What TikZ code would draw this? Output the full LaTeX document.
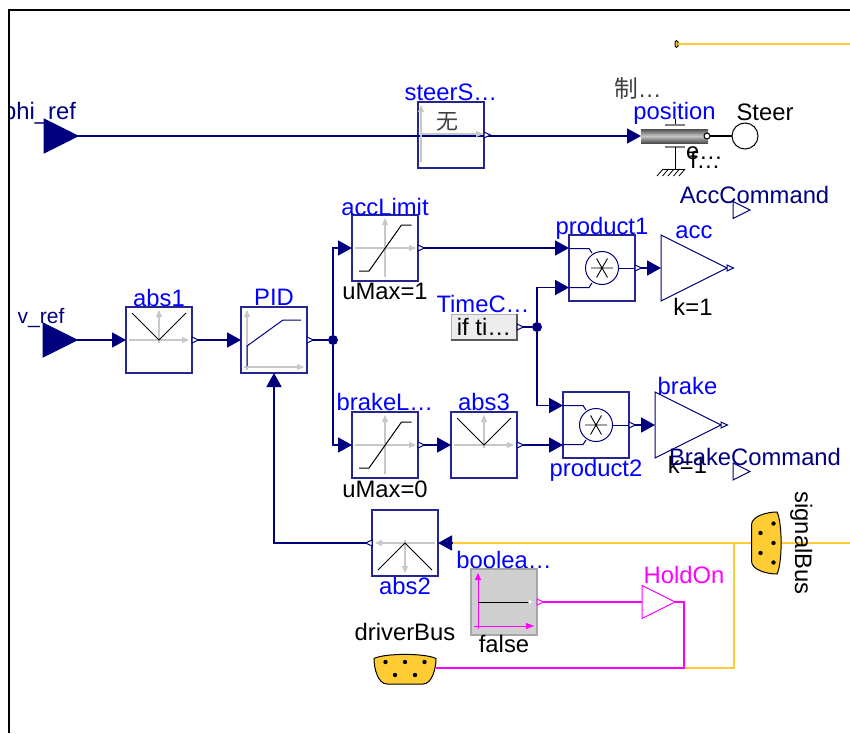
\documentclass[tikz,border=0pt]{standalone}
\usepackage{fontspec}
\setmainfont{Liberation Sans}
\newfontfamily\cjkfont{Noto Sans CJK SC}
\usepackage{xcolor}
\usepackage{tikz}
\usetikzlibrary{arrows.meta,positioning,shapes.geometric}

\definecolor{sigblue}{RGB}{0,0,127}
\definecolor{namblue}{RGB}{0,0,255}
\definecolor{busyel}{RGB}{255,204,51}
\definecolor{boolmag}{RGB}{255,0,255}
\definecolor{axisgray}{RGB}{200,200,200}

\begin{document}
\begin{tikzpicture}[
        x=1pt, y=-1pt,
        block/.style={draw=sigblue!85, rectangle, line width=1.2pt, minimum size=66pt, inner sep=0pt, outer sep=0pt},
        gain/.style={draw=#1, isosceles triangle, isosceles triangle stretches, line width=1pt, inner sep=0pt, outer sep=0pt, anchor=apex, shape border rotate=0},
        gain/.default=sigblue,
        lbl/.style={font=\fontsize{23.8}{26}\selectfont, inner sep=0pt, outer sep=0pt, text height=17pt, text depth=5pt},
        blockname/.style={lbl, text=namblue},
        dot/.style={circle, fill=sigblue, minimum size=10pt, inner sep=0pt, outer sep=0pt},
        conn/.style={sigblue, line width=1.8pt, -{Triangle[length=14pt,width=15pt]}},
        sigline/.style={sigblue, line width=1.8pt},
        busline/.style={busyel, line width=1.6pt},
        magline/.style={boolmag, line width=1.8pt},
        axis/.style={axisgray, line width=1.2pt, -{Triangle[length=7pt,width=6pt]}},
        pics/outp/.style={code={\draw[fill=white, line width=1pt, draw=#1] (0,-3) -- (6.5,0) -- (0,3) -- cycle;}},
        pics/outp/.default=sigblue,
        pics/limiter/.style={code={
            \draw[axis] (-30,0) -- (31,0);
            \draw[axis] (0,29) -- (0,-30);
            \draw[line width=1pt] (-26,23) -- (-16,23) -- (16.5,-23) -- (26.5,-23);
        }},
        pics/absicon/.style={code={
            \draw[axis] (-30,0) -- (30,0);
            \draw[axis] (0,3) -- (0,-30);
            \draw[line width=1pt] (-27,-27) -- (0,0) -- (27,-27);
        }},
        pics/mult/.style={code={
            \draw[sigblue, line width=1pt] (-33,-19.5) -- (-13,-19.5) -- (-10,-15);
            \draw[sigblue, line width=1pt] (-33,19.5) -- (-13,19.5) -- (-10,15);
            \draw[sigblue, line width=1pt] (0,0) circle (16.5);
            \draw[sigblue, line width=1pt] (16.5,0) -- (33,0);
            \draw[line width=0.9pt] (-11,0) -- (11,0) (-5.5,-9.5) -- (5.5,9.5) (-5.5,9.5) -- (5.5,-9.5);
        }},
        pics/busplug/.style={code={
            \draw[fill=busyel, line width=1pt] (-31,-10) .. controls (-20,-15.5) and (20,-15.5) .. (31,-10)
                .. controls (31,0) and (27,15.5) .. (18,15.5) -- (-18,15.5)
                .. controls (-27,15.5) and (-31,0) .. (-31,-10) -- cycle;
            \foreach \px/\py in {-19.5/-6.5,0/-6.5,19.5/-6.5,-10/6.5,10/6.5}
                \fill (\px,\py) circle (2.2);
        }}
    ]
    \useasboundingbox (0,0) rectangle (850,733);

    % blocks
    \node[block] (steerS) at (451,135) {};
    \node[block] (abs1) at (159,340) {};
    \node[block, right=49pt of abs1] (PID) {};
    \node[block] (accLimit) at (385,248) {};
    \node[block, below=131pt of accLimit] (brakeLimit) {};
    \node[block, right=33pt of brakeLimit] (abs3) {};
    \node[block] (product1) at (602,268) {};
    \node[block] (product2) at (596,425) {};
    \node[block] (abs2) at (405,543) {};
    \node[block, draw=gray!70, fill=gray!38] (boolean) at (504,602) {};
    \node[gain, minimum height=66pt, minimum width=66pt] (acc) at (727,268) {};
    \node[gain, minimum height=66pt, minimum width=66pt] (brake) at (721,425) {};
    \node[gain=boolmag, minimum height=33pt, minimum width=33pt] (HoldOn) at (675,602) {};
    \node[gain, fill=sigblue, minimum height=34pt, minimum width=34pt] (phiRef) at (78,136) {};
    \node[gain, fill=sigblue, minimum height=34pt, minimum width=34pt] (vRef) at (77,340) {};
    \node[gain, line width=1pt, minimum height=17pt, minimum width=17pt] (accCmd) at (750,210) {};
    \node[gain, line width=1pt, minimum height=17pt, minimum width=17pt] (brakeCmd) at (750,471.5) {};
    \node[lbl, draw=gray!60, fill=gray!15, rectangle, minimum width=66pt, minimum height=26pt, text height=17pt, text depth=1pt] (timeConst) at (484,327) {if ti…};
    \draw[gray!70!black, line width=1.5pt] (timeConst.south west) -- (timeConst.south east) -- (timeConst.north east);
    \node[dot] (juncPID) at (333,340) {};
    \node[dot] (juncTime) at (537,327) {};
    \node[rectangle, inner sep=0pt, outer sep=0pt, minimum width=67pt, minimum height=14pt, top color=black!70, bottom color=black!70, middle color=black!22] (position) at (674.5,136) {};
    \node[draw, circle, fill=white, line width=1pt, minimum size=26pt, inner sep=0pt, outer sep=0pt] (steer) at (745,136) {};
    \node[draw=black, fill=busyel, rounded corners=1.5pt, line width=1pt, minimum width=3pt, minimum height=7pt, inner sep=0pt, outer sep=0pt] (busTop) at (676.5,44) {};

    \coordinate (busTopEnd) at (850,44);
    \coordinate (sigTap) at (451.5,543);
    \coordinate (sigEnd) at (850,543);
    \coordinate (busJoin) at (734,543);
    \coordinate (holdTurn) at (684,668);
    \coordinate (driverPort) at (436,668);
    \coordinate (driverBus) at (405,668.5);
    \coordinate (signalBus) at (767,543);

    % connectors
    \draw[busline] (busTop) -- (busTopEnd);
    \draw[busline] (sigTap) -- (sigEnd);
    \draw[busline] (holdTurn) -| (busJoin);
    \draw[conn] (phiRef.apex) -- (position.west);
    \draw[conn] (vRef.apex) -- (abs1.west);
    \draw[conn] (abs1.east) -- (PID.west);
    \draw[sigline] (PID.east) -- (juncPID);
    \draw[conn] (juncPID) |- (accLimit.west);
    \draw[conn] (juncPID) |- (brakeLimit.west);
    \draw[conn] (accLimit.east) -- (accLimit.east -| product1.west);
    \draw[conn] (brakeLimit.east) -- (abs3.west);
    \draw[conn] (abs3.east) -- (abs3.east -| product2.west);
    \draw[sigline] (timeConst.east) -- (juncTime);
    \draw[conn] (juncTime) |- ([yshift=-19.5pt]product1.west);
    \draw[conn] (juncTime) |- ([yshift=19.5pt]product2.west);
    \draw[conn] (product1.east) -- (acc.lower side);
    \draw[conn] (product2.east) -- (brake.lower side);
    \draw[conn] (sigTap) -- (abs2.east);
    \draw[conn] (abs2.west) -| (PID.south);
    \draw[magline] (boolean.east) -- (HoldOn.lower side);
    \draw[magline] (HoldOn.apex) -| (holdTurn) -- (driverPort);
    \draw[line width=1.2pt] (position.east) -- (steer);

    % block icons
    \pic at (accLimit) {limiter};
    \pic at (brakeLimit) {limiter};
    \pic at (abs1) {absicon};
    \pic at (abs3) {absicon};
    \pic[rotate=180] at (abs2) {absicon};
    \pic at (product1) {mult};
    \pic at (product2) {mult};
    \draw[axis] (247,370) -- (247,310);
    \draw[axis] (244,367) -- (304,367);
    \draw[sigblue, line width=1pt] (247,366) -- (247,346) -- (283,320) -- (301,320);
    \draw[axis] (421,162) -- (421,105);
    \draw[axis] (421,134) -- (483,134);
    \node[inner sep=0pt, text=black!75, font=\cjkfont\fontsize{22}{24}\selectfont] (steerText) at (447.7,122) {无};
    \draw[boolmag, line width=1pt, -{Triangle[length=7pt,width=6pt]}] (478,629) -- (478,573);
    \draw[boolmag, line width=1pt, -{Triangle[length=8pt,width=6pt]}] (474,626) -- (534,626);
    \draw[line width=1pt] (478,602) -- (529,602);
    \fill[white] (530,602) circle (1.8);

    \foreach \b in {abs1,PID,accLimit,brakeLimit,abs3,product1,product2,timeConst,steerS}
        \pic at (\b.east) {outp};
    \pic at (acc.apex) {outp};
    \pic at (brake.apex) {outp};
    \pic[rotate=180] at (abs2.west) {outp};
    \pic at (boolean.east) {outp=boolmag};
    \pic at (driverBus) {busplug};
    \pic[rotate=-90] at (signalBus) {busplug};

    % rotational support with its ground
    \draw[line width=1pt] (675,119) -- (675,125);
    \draw[gray, line width=1.2pt] (665,125) -- (685,125) (665,147) -- (685,147);
    \draw[line width=1pt] (675,147) -- (675,169);
    \draw[line width=1pt] (663,169) -- (685,169);
    \foreach \hx in {663,668.5,674,679.5,685}
        \draw[line width=0.8pt] (\hx,169) -- ++(-6,7);
    \node[draw, circle, fill=white, line width=1pt, minimum size=6pt, inner sep=0pt] (flange) at (707,136) {};

    % labels
    \node[blockname, above=-3.7pt of steerS] (steerSName) {steerS…};
    \node[blockname, above=-4pt of abs1] (abs1Name) {abs1};
    \node[blockname, above=-3pt of PID] (PIDName) {PID};
    \node[blockname, above=-5pt of accLimit] (accLimitName) {accLimit};
    \node[blockname, above=-4pt of product1] (product1Name) {product1};
    \node[blockname, above=-3pt of brakeLimit] (brakeLimitName) {brakeL…};
    \node[blockname, above=-3pt of abs3] (abs3Name) {abs3};
    \node[blockname, above=-4pt of boolean] (booleanName) {boolea…};
    \node[blockname, below=1pt of product2] (product2Name) {product2};
    \node[blockname, below=1.5pt of abs2] (abs2Name) {abs2};
    \node[lbl, below=1pt of accLimit] (uMaxAcc) {uMax=1};
    \node[lbl, below=2pt of brakeLimit] (uMaxBrake) {uMax=0};
    \node[lbl, below=0pt of boolean] (falseText) {false};
    \node[blockname, anchor=base] (accName) at (694,238) {acc};
    \node[blockname, anchor=base] (brakeName) at (687.5,394.5) {brake};
    \node[blockname, anchor=base] (timeName) at (483,312.7) {TimeC…};
    \node[blockname, anchor=base] (positionName) at (674.5,119) {position};
    \node[blockname, anchor=base, text=boolmag] (holdName) at (684,583) {HoldOn};
    \node[lbl, anchor=base] (kAcc) at (693,315) {k=1};
    \node[lbl, anchor=base] (kBrake) at (687.5,473) {k=1};
    \node[lbl, anchor=base, text=sigblue] (accCmdName) at (754.5,203.7) {AccCommand};
    \node[lbl, anchor=base, text=sigblue] (brakeCmdName) at (755,465) {BrakeCommand};
    \node[lbl, anchor=base, text=sigblue] (phiName) at (39.5,119) {phi\_ref};
    \node[lbl, anchor=base, text=sigblue, font=\fontsize{21}{24}\selectfont] (vName) at (41,323.5) {v\_ref};
    \node[lbl, anchor=base] (steerName) at (765,121) {Steer};
    \node[lbl, anchor=base] (driverName) at (405,640) {driverBus};
    \node[lbl, anchor=base, rotate=-90] (signalName) at (795,543) {signalBus};
    \node[lbl, anchor=base west, text=black!75] (brakeText) at (614,98) {{\cjkfont 制}…};
    \node[lbl, anchor=base west] (eText) at (686,159) {e…};
    \node[lbl, anchor=base west] (fText) at (690,168) {f…};

    % frame
    \fill[white] (0,0) rectangle (9,733);
    \draw[line width=2pt] (850,10) -- (9,10) -- (9,733);
\end{tikzpicture}
\end{document}
